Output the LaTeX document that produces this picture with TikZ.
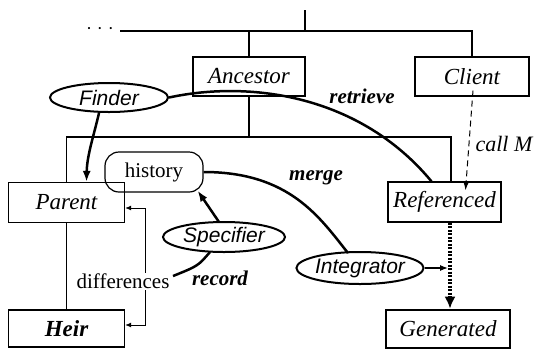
\documentclass[tikz,border=0pt]{standalone}
\usepackage{fontspec}
\setmainfont{Liberation Serif}
\setsansfont{Liberation Sans}
\usetikzlibrary{shapes.geometric,arrows.meta,calc}
\begin{document}
\begin{tikzpicture}[x=1pt,y=-1pt,
  box/.style={draw,line width=1.2pt,rectangle,inner sep=0pt,font=\fontsize{23}{27}\selectfont\itshape},
  oval/.style={draw,line width=2pt,ellipse,inner sep=0pt,font=\fontsize{21}{25}\selectfont\sffamily\itshape},
  lbl/.style={font=\fontsize{21}{25}\selectfont\bfseries\itshape},
  plain/.style={font=\fontsize{21}{25}\selectfont},
  tree/.style={line width=1.3pt},
  heavy/.style={line width=2.5pt},
  bigtip/.style={-{Latex[length=11pt,width=8pt]}},
]
\useasboundingbox (0,0) rectangle (541,349);

% boxes
\node[box,minimum width=112,minimum height=39] (ancestor) at (249,76.5) {Ancestor};
\node[box,minimum width=114,minimum height=39] (client) at (472,76.5) {Client};
\node[box,minimum width=116,minimum height=40] (parent) at (66.5,202.5) {Parent};
\node[box,minimum width=116,minimum height=37,font=\fontsize{23}{27}\selectfont\bfseries\itshape] (heir) at (66.5,328.5) {Heir};
\node[box,minimum width=113,minimum height=40] (referenced) at (444.5,202) {Referenced};
\node[box,line width=2.6pt,minimum width=124,minimum height=38] (generated) at (448,329) {Generated};
\node[draw,line width=1.2pt,rounded corners=14pt,minimum width=98,minimum height=40,inner sep=0pt,plain] (history) at (154,172) {history};

% ovals
\node[oval,minimum width=118,minimum height=29] (finder) at (109,97.5) {Finder};
\node[oval,minimum width=122,minimum height=30] (specifier) at (224,237) {Specifier};
\node[oval,minimum width=126,minimum height=32] (integrator) at (360,268) {Integrator};

% tree lines
\coordinate (lineleft) at (120,31);
\coordinate (topbar) at (305,31);
\coordinate (midbar) at (249,137);
\node[font=\fontsize{18}{20}\selectfont,inner sep=0pt] (dots) at (100,31) {·\hspace{5pt}·\hspace{5pt}·};
\draw[tree] (topbar) -- ++(0,-21);
\draw[tree] (lineleft) -- (client.north |- lineleft) -- (client.north);
\draw[tree] (ancestor.north) -- (ancestor.north |- lineleft);
\coordinate (rtop) at ($(referenced.north)+(6.5,0)$);
\draw[tree] (ancestor.south) -- (midbar);
\draw[tree] (parent.north) |- (midbar) -| (rtop);
\draw[tree] (parent.south) -- (heir.north);

% differences bracket
\coordinate (pd) at ($(parent.east)+(0,5.5)$);
\coordinate (hd) at ($(heir.east)+(0,-3.5)$);
\draw[line width=1pt,{Latex[length=6pt,width=5pt]}-{Latex[length=6pt,width=5pt]}] (pd) -- ++(20,0) |- (hd);
\node[plain,fill=white,inner sep=1pt] (diff) at (123,281) {differences};

% Finder arrows
\draw[heavy,bigtip] ($(finder.south)+(-10,0)$) .. controls (94,135) and (87,155) .. ($(parent.north)+(20,0)$);
\draw[heavy] (finder.east) .. controls (250,80) and (360,95) .. ($(referenced.north)+(-13,0)$);
\node[lbl] (retrieve) at (362,96) {retrieve};

% Client call
\draw[line width=1pt,dash pattern=on 6pt off 4pt,-{Latex[length=9pt,width=6pt]}] ($(client.south)+(1,-6)$) -- ($(referenced.north)+(21,9)$);
\node[font=\fontsize{22}{26}\selectfont\itshape,anchor=west] (callm) at (472,144) {call M};

% merge
\draw[heavy] (history.east) .. controls (290,172) and (320,218) .. ($(integrator.north)+(-12,2)$);
\node[lbl] (merge) at (316,178) {merge};

% Specifier
\draw[heavy,bigtip] ($(specifier.north)+(-5,1)$) -- ($(history.south east)+(-6,-2)$);
\coordinate (rec) at (173,276);
\draw[heavy] ($(specifier.south)+(-14,-1)$) .. controls (198,266) .. (rec);
\node[lbl] (record) at (220,278) {record};

% Integrator
\coordinate (joint) at (448,268);
\draw[line width=1.2pt,-{Latex[length=8pt,width=6pt]}] (integrator.east) -- (joint);

% Referenced -> Generated
\draw[line width=3.2pt,dash pattern=on 2pt off 1.5pt,-{Latex[length=12pt,width=11pt]}] ($(referenced.south)+(5.5,0)$) -- ($(generated.north)+(2,0)$);
\end{tikzpicture}
\end{document}
